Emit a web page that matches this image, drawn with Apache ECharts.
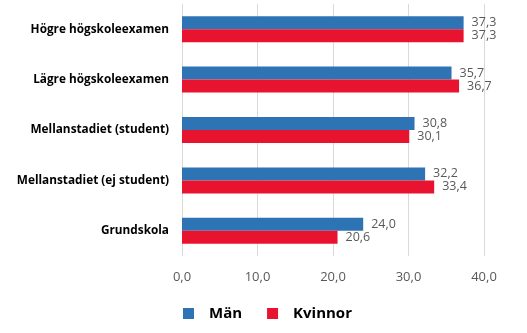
<!DOCTYPE html>
<html>
<head>
<meta charset="utf-8">
<script src="https://cdn.jsdelivr.net/npm/echarts@6/dist/echarts.min.js"></script>
<style>
  html, body { margin: 0; padding: 0; background: #fff; }
  #chart { width: 527px; height: 333px; }
</style>
</head>
<body>
<div id="chart"></div>
<script>
// Utbildningsnivå, från högsta till lägsta
const categories = [
  'Högre högskoleexamen',
  'Lägre högskoleexamen',
  'Mellanstadiet (student)',
  'Mellanstadiet (ej student)',
  'Grundskola'
];
const man = [37.3, 35.7, 30.8, 32.2, 24.0];
const kvinnor = [37.3, 36.7, 30.1, 33.4, 20.6];
const seriesNames = ['Män', 'Kvinnor'];
const xTicks = [0, 10, 20, 30, 40];

const fmt = v => v.toFixed(1).replace('.', ',');

const labelStyle = {
  show: true,
  position: 'right',
  distance: 8,
  color: '#595959',
  fontFamily: 'Open Sans',
  fontSize: 12.5,
  formatter: p => fmt(p.value)
};

const chart = echarts.init(document.getElementById('chart'));
chart.setOption({
  animation: false,
  grid: { left: 182, right: 43, top: 4, height: 252, containLabel: false },
  xAxis: {
    type: 'value',
    min: xTicks[0],
    max: xTicks[xTicks.length - 1],
    interval: 10,
    axisLine: { show: false },
    axisTick: { show: false },
    splitLine: { lineStyle: { color: '#d9d9d9', width: 1 } },
    axisLabel: {
      margin: 15,
      color: '#595959',
      fontFamily: 'Open Sans',
      fontSize: 13,
      formatter: v => fmt(v)
    }
  },
  yAxis: {
    type: 'category',
    data: categories,
    inverse: true,
    axisLine: { show: false },
    axisTick: { show: false },
    axisLabel: {
      margin: 13,
      color: '#000',
      fontFamily: 'Open Sans',
      fontWeight: 'bold',
      fontSize: 11.8
    }
  },
  legend: {
    data: seriesNames,
    left: 178,
    top: 301,
    itemWidth: 11,
    itemHeight: 11,
    itemGap: 25,
    icon: 'rect',
    textStyle: {
      color: '#000',
      fontFamily: 'Open Sans',
      fontWeight: 'bold',
      fontSize: 15,
      padding: [0, 0, 0, 10]
    }
  },
  series: [
    {
      name: seriesNames[0],
      type: 'bar',
      data: man,
      barWidth: 13,
      barGap: '0%',
      itemStyle: { color: '#2E74B5' },
      label: labelStyle
    },
    {
      name: seriesNames[1],
      type: 'bar',
      data: kvinnor,
      barWidth: 13,
      barGap: '0%',
      itemStyle: { color: '#E8132E' },
      label: labelStyle
    }
  ]
});
</script>
</body>
</html>
